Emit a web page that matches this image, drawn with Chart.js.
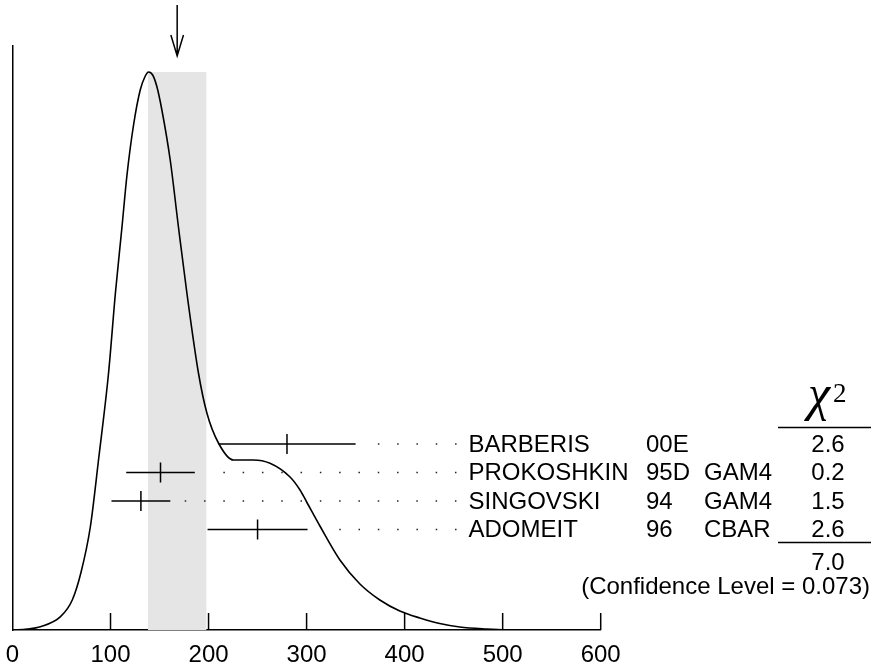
<!DOCTYPE html>
<html lang="en">
<head>
<meta charset="UTF-8">
<title>Ideogram</title>
<script src="https://cdn.jsdelivr.net/npm/chart.js"></script>
<style>
  html, body { margin: 0; padding: 0; background: #fff; overflow: hidden; }
  .chart-box { position: relative; width: 871px; height: 667px; }
</style>
</head>
<body>
<div class="chart-box"><canvas id="ideogram"></canvas></div>
<script>
// ideogram curve: x = mass value, y = height above the axis
const curveX = [0, 15, 28.5, 49, 61, 70, 79.4, 88, 98, 105, 111.7, 116.8, 123.5, 130.3, 135, 138.8, 143, 147.4, 152.4, 160.9, 169.3, 177.9, 189.7, 198.3, 210.1, 225.4, 245.7, 262.7, 283.1, 293.3, 300.1, 313.6, 334, 354.4, 374.7, 395.1, 415.5, 435.8, 456.2, 483.4, 503.8, 600];
const curveY = [0, 1, 3.3, 13.3, 30, 58, 103, 172, 257, 337, 403, 455, 505, 540, 553, 558, 555, 543, 520, 470, 403, 337, 257, 217, 187, 170, 170, 166.7, 153, 140, 128, 104, 70, 46, 30, 19, 12, 6.5, 3, 1, 0.2, 0];

// measurements
const names = ['BARBERIS', 'PROKOSHKIN', 'SINGOVSKI', 'ADOMEIT'];
const years = ['00E', '95D', '94', '96'];
const tags = ['', 'GAM4', 'GAM4', 'CBAR'];
const values = [280, 151, 131, 250];
const errors = [70, 35, 30, 51];
const chi2 = ['2.6', '0.2', '1.5', '2.6'];
const chi2Total = '7.0';
const confLevel = '0.073';

// shaded band (fit +- error) and arrow at the fit value
const bandRange = [138, 198];
const fitValue = 168;

const xTicks = [0, 100, 200, 300, 400, 500, 600];

// layout of the measurement rows (same units as y scale)
const ROW_TOP = 186;
const ROW_STEP = 28.5;
const TICK_H = 10;
const DOT_END = 451.5;
const DOT_STEP = 19.7;
const DOT_GAP = 13.5;

const datasets = [];
datasets.push({
    data: curveX.map((x, i) => ({ x: x, y: curveY[i] })),
    borderColor: '#000',
    borderWidth: 1.6,
    cubicInterpolationMode: 'monotone',
    pointRadius: 0,
    order: 1
});

names.forEach((n, i) => {
    const y = ROW_TOP - i * ROW_STEP;
    const lo = values[i] - errors[i];
    const hi = values[i] + errors[i];
    // error bar
    datasets.push({
        data: [{ x: lo, y: y }, { x: hi, y: y }],
        borderColor: '#000', borderWidth: 1.5, pointRadius: 0, order: 1
    });
    // central value tick
    datasets.push({
        data: [{ x: values[i], y: y - TICK_H }, { x: values[i], y: y + TICK_H }],
        borderColor: '#000', borderWidth: 1.5, pointRadius: 0, order: 1
    });
    // dotted leader to the label (last point a bit past DOT_END so the final dot is drawn)
    const k = Math.floor((DOT_END - hi - DOT_GAP) / DOT_STEP);
    datasets.push({
        data: [{ x: DOT_END - k * DOT_STEP, y: y }, { x: DOT_END + 2, y: y }],
        borderColor: '#222', borderWidth: 1.5, borderDash: [1.5, 17.8],
        pointRadius: 0, order: 1
    });
});

const peak = Math.max(...curveY);
datasets.push({
    data: [
        { x: bandRange[0], y: 0 }, { x: bandRange[0], y: peak },
        { x: bandRange[1], y: peak }, { x: bandRange[1], y: 0 }
    ],
    fill: 'origin',
    backgroundColor: '#e5e5e5',
    borderWidth: 0,
    pointRadius: 0,
    order: 5
});

const overlay = {
    id: 'overlay',
    afterDraw(chart) {
        const { ctx, chartArea, scales: { x, y } } = chart;
        ctx.save();
        ctx.strokeStyle = '#000';
        ctx.fillStyle = '#000';
        ctx.lineWidth = 1.5;

        // ticks pointing into the plot
        x.ticks.forEach(t => {
            if (t.value === 0) return;
            const px = x.getPixelForValue(t.value);
            ctx.beginPath();
            ctx.moveTo(px, chartArea.bottom);
            ctx.lineTo(px, chartArea.bottom - 17);
            ctx.stroke();
        });

        // arrow at the fit value
        const ax = x.getPixelForValue(fitValue);
        const tip = chartArea.top + 10;
        ctx.beginPath();
        ctx.moveTo(ax, chartArea.top - 41);
        ctx.lineTo(ax, tip);
        ctx.moveTo(ax - 6.3, tip - 21);
        ctx.lineTo(ax, tip);
        ctx.lineTo(ax + 6.3, tip - 21);
        ctx.stroke();

        // measurement labels
        ctx.font = '24px "Liberation Sans", Arial, sans-serif';
        ctx.textBaseline = 'middle';
        names.forEach((n, i) => {
            const py = y.getPixelForValue(ROW_TOP - i * ROW_STEP) + 1;
            ctx.textAlign = 'left';
            ctx.fillText(n, 468.5, py);
            ctx.fillText(years[i], 646, py);
            ctx.fillText(tags[i], 704, py);
            ctx.textAlign = 'center';
            ctx.fillText(chi2[i], 828, py);
        });

        // chi2 header
        ctx.textAlign = 'left';
        ctx.textBaseline = 'alphabetic';
        ctx.font = 'italic 50px "Liberation Serif", "Times New Roman", serif';
        ctx.fillText('\u03c7', 808, 410);
        ctx.font = '27px "Liberation Serif", "Times New Roman", serif';
        ctx.fillText('2', 833, 401.7);

        ctx.beginPath();
        ctx.moveTo(778, 427.5);
        ctx.lineTo(871, 427.5);
        ctx.moveTo(778, 542.5);
        ctx.lineTo(871, 542.5);
        ctx.stroke();

        ctx.font = '24px "Liberation Sans", Arial, sans-serif';
        ctx.textBaseline = 'middle';
        ctx.textAlign = 'center';
        ctx.fillText(chi2Total, 828, 563);
        ctx.textAlign = 'right';
        ctx.fillText('(Confidence Level = ' + confLevel + ')', 870, 587);
        ctx.restore();
    }
};

Chart.defaults.font.family = '"Liberation Sans", Arial, sans-serif';
Chart.defaults.color = '#000';

new Chart(document.getElementById('ideogram'), {
    type: 'line',
    data: { datasets: datasets },
    options: {
        responsive: true,
        maintainAspectRatio: false,
        animation: false,
        // bottom is negative so the tick labels sit lower than Chart.js would put them
        layout: { padding: { left: 5.3, right: 270.3, top: 46, bottom: -13 } },
        plugins: {
            legend: { display: false },
            tooltip: { enabled: false }
        },
        scales: {
            x: {
                type: 'linear',
                min: 0,
                max: 600,
                afterBuildTicks: s => { s.ticks = xTicks.map(v => ({ value: v })); },
                grid: { display: false, drawTicks: false },
                border: { display: true, color: '#000', width: 1.5 },
                ticks: { color: '#000', font: { size: 24, lineHeight: 1.6 }, padding: 5.8, maxRotation: 0, autoSkip: false }
            },
            y: {
                min: 0,
                max: 584,
                grid: { display: false, drawTicks: false },
                border: { display: true, color: '#000', width: 1.5 },
                ticks: { display: false }
            }
        }
    },
    plugins: [overlay]
});
</script>
</body>
</html>
